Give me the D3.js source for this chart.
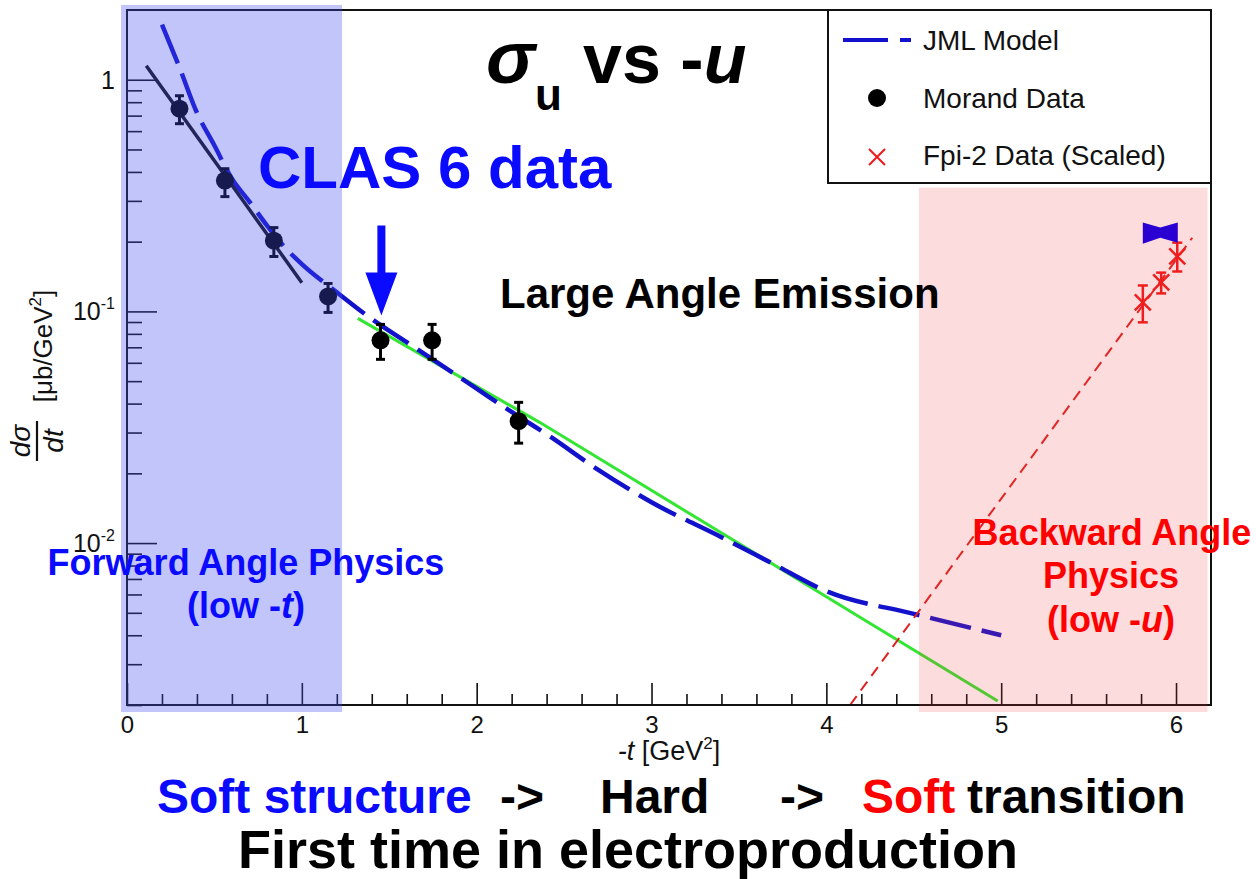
<!DOCTYPE html>
<html>
<head>
<meta charset="utf-8">
<script src="https://cdn.jsdelivr.net/npm/d3@7"></script>
<style>
  html, body { margin: 0; padding: 0; background: #fff; }
  svg { display: block; font-family: "Liberation Sans", Arial, Helvetica, sans-serif; }
</style>
</head>
<body>
<svg id="chart" width="1256" height="879"></svg>
<script>
// ---- Morand data (CLAS 6), -t in GeV^2, dsigma/dt in microbarn/GeV^2 ----
const morandT     = [0.30, 0.56, 0.84, 1.15, 1.45, 1.745, 2.24];
const morandSigma = [0.75, 0.367, 0.202, 0.116, 0.075, 0.075, 0.0336];
const morandLow   = [0.646, 0.313, 0.1726, 0.099, 0.0621, 0.0621, 0.0270];
const morandHigh  = [0.853, 0.413, 0.230, 0.132, 0.0879, 0.0879, 0.0405];

// ---- JML model curve ----
const jmlT     = [0.2, 0.3, 0.4, 0.5, 0.6, 0.7, 0.8, 0.9, 1.0, 1.2, 1.4, 1.6, 1.8, 2.0, 2.2, 2.4, 2.7, 3.0, 3.4, 3.7, 4.0, 4.5, 5.0];
const jmlSigma = [1.73, 1.13, 0.72, 0.52, 0.374, 0.298, 0.235, 0.19, 0.16, 0.121, 0.0927, 0.0736, 0.0585, 0.0464, 0.0368, 0.0295, 0.0206, 0.0150, 0.0106, 0.0081, 0.0062, 0.00495, 0.0040];

// ---- low -t exponential fit ----
const softFitT     = [0.11, 1.0];
const softFitSigma = [1.15, 0.133];

// ---- hard-scattering trend ----
const hardT     = [1.32, 2.36, 4.19, 4.98];
const hardSigma = [0.0933, 0.0332, 0.0048, 0.00208];

// ---- backward (low -u) trend ----
const uFitT     = [4.136, 6.093];
const uFitSigma = [0.002, 0.208];

// ---- Fpi-2 data (scaled) ----
const fpiT     = [5.81, 5.915, 6.007];
const fpiSigma = [0.1094, 0.1334, 0.1726];
const fpiLow   = [0.0897, 0.1196, 0.1487];
const fpiHigh  = [0.1294, 0.147, 0.198];

// ---- projected band ----
const bandT    = [5.81, 5.91, 6.01];
const bandHigh = [0.242, 0.230, 0.242];
const bandLow  = [0.196, 0.208, 0.198];

// ---- axes ----
const xMajor = [0, 1, 2, 3, 4, 5, 6];
const xMinor = d3.range(1, 31).filter(i => i % 5 !== 0).map(i => i * 0.2);
const yMajor = [0.01, 0.1, 1];
const yTickLabels = [["10", "-2"], ["10", "-1"], ["1", ""]];
const yMinor = [];
[0.001, 0.01, 0.1].forEach(d => { for (let k = 2; k <= 9; k++) { const v = k * d; if (v >= 0.002 && v < 2) yMinor.push(v); } });

const legendItems = ["JML Model", "Morand Data", "Fpi-2 Data (Scaled)"];

const svg = d3.select("#chart");
const x = d3.scaleLinear().domain([0, 6.2]).range([127, 1211]);
const y = d3.scaleLog().domain([0.002, 2]).range([705, 10]);
const [x0, x1] = x.range();
const [yb, yt] = y.range();

const ink = "#111";

// ---- plot content ----
const plot = svg.append("g");
svg.append("clipPath").attr("id", "plotclip")
  .append("rect").attr("x", x0).attr("y", yt).attr("width", x1 - x0).attr("height", yb - yt);

const content = plot.append("g").attr("clip-path", "url(#plotclip)");
const line = d3.line().x(d => x(d[0])).y(d => y(d[1]));

// hard trend (green)
content.append("path")
  .attr("d", line(d3.zip(hardT, hardSigma)))
  .attr("fill", "none").attr("stroke", "#33e633").attr("stroke-width", 3);

// JML model (blue dashed)
content.append("path")
  .attr("d", line.curve(d3.curveMonotoneX)(d3.zip(jmlT, jmlSigma)))
  .attr("fill", "none").attr("stroke", "#1212cc").attr("stroke-width", 4.5)
  .attr("stroke-dasharray", "42 11");
line.curve(d3.curveLinear);

// low -t fit (black)
content.append("path")
  .attr("d", line(d3.zip(softFitT, softFitSigma)))
  .attr("fill", "none").attr("stroke", ink).attr("stroke-width", 3.5);

// backward trend (red dashed)
content.append("path")
  .attr("d", line(d3.zip(uFitT, uFitSigma)))
  .attr("fill", "none").attr("stroke", "#e02020").attr("stroke-width", 2)
  .attr("stroke-dasharray", "11 7");

// Morand points with error bars
const mg = content.append("g");
morandT.forEach((t, i) => {
  const cx = x(t);
  mg.append("line").attr("x1", cx).attr("x2", cx).attr("y1", y(morandLow[i])).attr("y2", y(morandHigh[i]))
    .attr("stroke", "#000").attr("stroke-width", 3);
  [morandLow[i], morandHigh[i]].forEach(v => {
    mg.append("line").attr("x1", cx - 4.5).attr("x2", cx + 4.5).attr("y1", y(v)).attr("y2", y(v))
      .attr("stroke", "#000").attr("stroke-width", 3);
  });
  mg.append("circle").attr("cx", cx).attr("cy", y(morandSigma[i])).attr("r", 9).attr("fill", "#000");
});

// Fpi-2 points
const fg = content.append("g").attr("stroke", "#f01818").attr("stroke-width", 2.5);
fpiT.forEach((t, i) => {
  const cx = x(t), cy = y(fpiSigma[i]);
  fg.append("line").attr("x1", cx).attr("x2", cx).attr("y1", y(fpiLow[i])).attr("y2", y(fpiHigh[i]));
  [fpiLow[i], fpiHigh[i]].forEach(v => {
    fg.append("line").attr("x1", cx - 5).attr("x2", cx + 5).attr("y1", y(v)).attr("y2", y(v));
  });
  fg.append("line").attr("x1", cx - 8).attr("x2", cx + 8).attr("y1", cy - 8).attr("y2", cy + 8);
  fg.append("line").attr("x1", cx - 8).attr("x2", cx + 8).attr("y1", cy + 8).attr("y2", cy - 8);
});

// ---- axes & frame ----
const xAxisG = plot.append("g").attr("transform", `translate(0,${yb})`)
  .call(d3.axisBottom(x).tickValues(xMajor).tickSize(-22).tickPadding(11).tickFormat(d3.format("d")));
plot.append("g").attr("transform", `translate(0,${yb})`)
  .call(d3.axisBottom(x).tickValues(xMinor).tickSize(-11).tickFormat(""));
const yAxisG = plot.append("g").attr("transform", `translate(${x0},0)`)
  .call(d3.axisLeft(y).tickValues(yMajor).tickSize(-30).tickPadding(12).tickFormat(""));
plot.append("g").attr("transform", `translate(${x0},0)`)
  .call(d3.axisLeft(y).tickValues(yMinor).tickSize(-15).tickFormat(""));

plot.selectAll(".domain").remove();
plot.selectAll(".tick line").attr("stroke", ink).attr("stroke-width", 1.6);
xAxisG.selectAll("text").attr("font-size", 24).attr("fill", ink)
  .attr("font-family", "'Liberation Sans', Arial, sans-serif");
yAxisG.selectAll(".tick text").each(function (d) {
  const t = d3.select(this).attr("font-size", 25).attr("fill", ink)
    .attr("font-family", "'Liberation Sans', Arial, sans-serif").attr("dy", "0.34em");
  const lab = yTickLabels[yMajor.indexOf(d)];
  t.append("tspan").text(lab[0]);
  if (lab[1]) t.append("tspan").attr("font-size", 16).attr("dy", -11).text(lab[1]);
});

plot.append("rect").attr("x", x0).attr("y", yt).attr("width", x1 - x0).attr("height", yb - yt)
  .attr("fill", "none").attr("stroke", ink).attr("stroke-width", 2);

// axis titles
svg.append("text").attr("x", (x0 + x1) / 2).attr("y", 760).attr("text-anchor", "middle")
  .attr("font-size", 27).attr("fill", ink)
  .call(t => {
    t.append("tspan").attr("font-style", "italic").text("-t");
    t.append("tspan").text(" [GeV");
    t.append("tspan").attr("font-size", 17).attr("dy", -11).text("2");
    t.append("tspan").attr("dy", 11).text("]");
  });

const yl = svg.append("g").attr("transform", "rotate(-90)");
yl.append("text").attr("x", -441).attr("y", 30).attr("text-anchor", "middle")
  .attr("font-style", "italic").attr("font-size", 28).attr("fill", ink).text("dσ");
yl.append("line").attr("x1", -461).attr("x2", -421).attr("y1", 37).attr("y2", 37)
  .attr("stroke", ink).attr("stroke-width", 2.2);
yl.append("text").attr("x", -441).attr("y", 63).attr("text-anchor", "middle")
  .attr("font-style", "italic").attr("font-size", 28).attr("fill", ink).text("dt");
yl.append("text").attr("x", -346).attr("y", 52).attr("text-anchor", "middle")
  .attr("font-size", 26).attr("fill", ink)
  .call(t => {
    t.append("tspan").text("[μb/GeV");
    t.append("tspan").attr("font-size", 17).attr("dy", -11).text("2");
    t.append("tspan").attr("dy", 11).text("]");
  });

// ---- shaded kinematic regions ----
svg.append("rect")
  .attr("x", x(-0.034)).attr("y", yt - 5)
  .attr("width", x(1.23) - x(-0.034)).attr("height", yb - yt + 12)
  .attr("fill", "rgb(70,80,240)").attr("fill-opacity", 0.33);
svg.append("rect")
  .attr("x", x(4.53)).attr("y", y(0.342))
  .attr("width", x(6.18) - x(4.53)).attr("height", yb + 7 - y(0.342))
  .attr("fill", "rgb(240,60,60)").attr("fill-opacity", 0.18);

// projected band, drawn over the shading
svg.append("path")
  .attr("d", d3.area().x((d, i) => x(bandT[i])).y0((d, i) => y(bandLow[i])).y1((d, i) => y(bandHigh[i]))(bandT))
  .attr("fill", "#2a00d2");

// ---- legend ----
const leg = svg.append("g");
leg.append("rect").attr("x", 828).attr("y", yt).attr("width", x1 - 828).attr("height", 173)
  .attr("fill", "#fff").attr("stroke", ink).attr("stroke-width", 2);
leg.append("line").attr("x1", 843).attr("x2", 911).attr("y1", 40).attr("y2", 40)
  .attr("stroke", "#1212cc").attr("stroke-width", 4).attr("stroke-dasharray", "45 12");
leg.append("circle").attr("cx", 877).attr("cy", 98).attr("r", 9).attr("fill", "#000");
leg.append("path").attr("d", "M869,149L885,165M869,165L885,149")
  .attr("stroke", "#f01818").attr("stroke-width", 2).attr("fill", "none");
legendItems.forEach((s, i) => {
  leg.append("text").attr("x", 923).attr("y", [50, 108, 165][i])
    .attr("font-size", 28).attr("fill", ink).text(s);
});

// ---- annotations ----
const title = svg.append("text").attr("y", 83).attr("font-weight", "bold").attr("font-size", 70).attr("fill", "#000");
title.append("tspan").attr("x", 486).attr("font-style", "italic").attr("font-size", 74).text("σ");
title.append("tspan").attr("x", 535).attr("y", 110).attr("font-size", 44).text("u");
title.append("tspan").attr("x", 583).attr("y", 83).text("vs -");
title.append("tspan").attr("font-style", "italic").text("u");

svg.append("text").attr("x", 258).attr("y", 188).attr("font-weight", "bold").attr("font-size", 60)
  .attr("fill", "#0a0aff").text("CLAS 6 data");

// arrow towards the CLAS 6 point
const tip = [x(1.455), y(0.096)];
svg.append("path")
  .attr("d", `M${tip[0] - 4},${tip[1] - 90}L${tip[0] + 4},${tip[1] - 90}L${tip[0] + 4},${tip[1] - 43}` +
             `L${tip[0] + 16},${tip[1] - 43}L${tip[0]},${tip[1]}L${tip[0] - 16},${tip[1] - 43}` +
             `L${tip[0] - 4},${tip[1] - 43}Z`)
  .attr("fill", "#0a0aff");

svg.append("text").attr("x", 500).attr("y", 308).attr("font-weight", "bold").attr("font-size", 42)
  .attr("fill", "#000").text("Large Angle Emission");

const fwd = svg.append("g").attr("font-weight", "bold").attr("font-size", 36).attr("fill", "#0a0aff")
  .attr("text-anchor", "middle");
fwd.append("text").attr("x", 246).attr("y", 575).text("Forward Angle Physics");
fwd.append("text").attr("x", 246).attr("y", 618)
  .call(t => { t.append("tspan").text("(low -"); t.append("tspan").attr("font-style", "italic").text("t"); t.append("tspan").text(")"); });

const bwd = svg.append("g").attr("font-weight", "bold").attr("font-size", 36).attr("fill", "#ff0000")
  .attr("text-anchor", "middle");
bwd.append("text").attr("x", 1112).attr("y", 545).text("Backward Angle");
bwd.append("text").attr("x", 1111).attr("y", 588).text("Physics");
bwd.append("text").attr("x", 1111).attr("y", 632)
  .call(t => { t.append("tspan").text("(low -"); t.append("tspan").attr("font-style", "italic").text("u"); t.append("tspan").text(")"); });

const bottom = svg.append("g").attr("font-weight", "bold").attr("font-size", 48);
bottom.append("text").attr("x", 157).attr("y", 813).attr("fill", "#0a0aff").text("Soft structure");
bottom.append("text").attr("x", 500).attr("y", 813).attr("fill", "#000").text("->");
bottom.append("text").attr("x", 600).attr("y", 813).attr("fill", "#000").text("Hard");
bottom.append("text").attr("x", 780).attr("y", 813).attr("fill", "#000").text("->");
bottom.append("text").attr("x", 862).attr("y", 813).attr("fill", "#ff0000").text("Soft");
bottom.append("text").attr("x", 967).attr("y", 813).attr("fill", "#000").text("transition");
bottom.append("text").attr("x", 628).attr("y", 868).attr("text-anchor", "middle").attr("font-size", 54)
  .attr("fill", "#000").text("First time in electroproduction");
</script>
</body>
</html>
